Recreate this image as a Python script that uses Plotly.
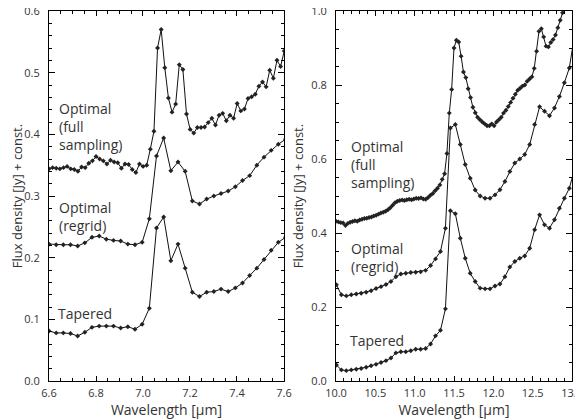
import numpy as np
import plotly.graph_objects as go

# ---------------- data ----------------
# Left panel (6.6 - 7.6 um)
left_full_x0, left_full_step = 6.600, 0.0154
left_full_y = [0.344, 0.346, 0.345, 0.344, 0.346, 0.348, 0.344, 0.343, 0.340, 0.347,
               0.346, 0.353, 0.357, 0.364, 0.360, 0.357, 0.352, 0.358, 0.355, 0.354,
               0.345, 0.352, 0.351, 0.343, 0.338, 0.352, 0.348, 0.350,
               0.376, 0.405, 0.540, 0.570, 0.508, 0.459, 0.436, 0.449, 0.513, 0.505,
               0.433, 0.408, 0.402, 0.411, 0.411, 0.412, 0.419, 0.426, 0.415, 0.431,
               0.434, 0.422, 0.431, 0.426, 0.450, 0.438, 0.441, 0.458, 0.461, 0.465,
               0.478, 0.485, 0.477, 0.504, 0.491, 0.520, 0.510, 0.535]
left_coarse_x0, left_coarse_step = 6.600, 0.0305
left_regrid_y = [0.222, 0.221, 0.221, 0.221, 0.219, 0.224, 0.233, 0.235, 0.230, 0.228,
                 0.227, 0.222, 0.221, 0.225, 0.263, 0.365, 0.394, 0.341, 0.355, 0.340,
                 0.292, 0.287, 0.295, 0.300, 0.304, 0.308, 0.315, 0.325, 0.333, 0.350,
                 0.363, 0.374, 0.384, 0.392]
left_taper_y = [0.081, 0.078, 0.078, 0.077, 0.073, 0.079, 0.087, 0.089, 0.089, 0.089,
                0.086, 0.088, 0.084, 0.092, 0.118, 0.248, 0.266, 0.195, 0.222, 0.183,
                0.144, 0.137, 0.144, 0.145, 0.149, 0.145, 0.151, 0.159, 0.171, 0.183,
                0.197, 0.212, 0.225, 0.233]

# Right panel (10 - 13 um)
right_full_x0, right_full_step = 10.00, 0.03
right_full_y = [0.432, 0.430, 0.428, 0.427, 0.420, 0.426, 0.429, 0.431, 0.433, 0.432,
                0.435, 0.437, 0.439, 0.440, 0.442, 0.443, 0.446, 0.448, 0.451, 0.454,
                0.456, 0.459, 0.463, 0.468, 0.475, 0.482, 0.486, 0.488, 0.489, 0.488,
                0.490, 0.491, 0.490, 0.492, 0.494, 0.493, 0.495, 0.492, 0.491, 0.496,
                0.502, 0.507, 0.514, 0.521, 0.530, 0.545, 0.560, 0.615, 0.724, 0.788,
                0.900, 0.921, 0.916, 0.878, 0.835, 0.820, 0.790, 0.766, 0.740, 0.725,
                0.713, 0.706, 0.700, 0.695, 0.690, 0.690, 0.695, 0.690, 0.700, 0.706,
                0.713, 0.724, 0.732, 0.742, 0.753, 0.764, 0.775, 0.786, 0.791, 0.797,
                0.800, 0.810, 0.816, 0.822, 0.845, 0.891, 0.945, 0.952, 0.930, 0.905,
                0.903, 0.915, 0.923, 0.935, 0.955, 0.975, 0.995, 1.015, 1.035, 1.055,
                1.075]
right_coarse_x0, right_coarse_step = 10.005, 0.063
right_regrid_y = [0.260, 0.233, 0.230, 0.233, 0.235, 0.237, 0.240, 0.244, 0.250, 0.255,
                  0.261, 0.269, 0.282, 0.289, 0.291, 0.293, 0.294, 0.295, 0.299, 0.312,
                  0.330, 0.350, 0.413, 0.684, 0.693, 0.639, 0.585, 0.548, 0.516, 0.500,
                  0.494, 0.494, 0.503, 0.517, 0.539, 0.566, 0.589, 0.600, 0.612, 0.639,
                  0.693, 0.741, 0.729, 0.717, 0.738, 0.769, 0.806, 0.846, 0.930]
right_taper_y = [0.043, 0.030, 0.028, 0.030, 0.032, 0.034, 0.037, 0.041, 0.045, 0.050,
                 0.055, 0.062, 0.076, 0.079, 0.079, 0.082, 0.086, 0.086, 0.088, 0.100,
                 0.122, 0.137, 0.195, 0.460, 0.452, 0.386, 0.332, 0.291, 0.269, 0.251,
                 0.249, 0.249, 0.257, 0.262, 0.282, 0.308, 0.323, 0.332, 0.338, 0.359,
                 0.409, 0.449, 0.422, 0.413, 0.436, 0.467, 0.494, 0.521, 0.570]

labels = ["Optimal<br>(full<br>sampling)", "Optimal<br>(regrid)", "Tapered"]
left_label_pos = [(6.632, 0.412), (6.632, 0.267), (6.630, 0.110)]
right_label_pos = [(10.165, 0.585), (10.165, 0.334), (10.150, 0.109)]

x_title = "Wavelength [µm]"
y_title = "Flux density [Jy] + const."


def grid(x0, step, n):
    return x0 + step * np.arange(n)


FONT = "Open Sans, DejaVu Sans, sans-serif"
TXT = "#333333"

fig = go.Figure()

series = [
    ("x", "y", left_full_x0, left_full_step, left_full_y),
    ("x", "y", left_coarse_x0, left_coarse_step, left_regrid_y),
    ("x", "y", left_coarse_x0, left_coarse_step, left_taper_y),
    ("x2", "y2", right_full_x0, right_full_step, right_full_y),
    ("x2", "y2", right_coarse_x0, right_coarse_step, right_regrid_y),
    ("x2", "y2", right_coarse_x0, right_coarse_step, right_taper_y),
]
for xa, ya, x0, st, yv in series:
    fig.add_trace(go.Scatter(
        x=grid(x0, st, len(yv)), y=yv, xaxis=xa, yaxis=ya,
        mode="lines+markers",
        line=dict(color="#111111", width=1),
        marker=dict(symbol="diamond", size=3.8, color="#222222"),
        cliponaxis=True, showlegend=False, hoverinfo="skip"))

for (x, y), t in zip(left_label_pos, labels):
    fig.add_annotation(x=x, y=y, xref="x", yref="y", text=t, showarrow=False,
                       xanchor="left", yanchor="middle", align="left",
                       font=dict(family=FONT, size=14, color=TXT))
for (x, y), t in zip(right_label_pos, labels):
    fig.add_annotation(x=x, y=y, xref="x2", yref="y2", text=t, showarrow=False,
                       xanchor="left", yanchor="middle", align="left",
                       font=dict(family=FONT, size=14, color=TXT))

common_axis = dict(showgrid=False, zeroline=False, showline=True, linecolor="black",
                   linewidth=1, mirror="ticks", ticks="inside", tickcolor="black",
                   tickwidth=1, automargin=False, ticklabeloverflow="allow",
                   tickfont=dict(family=FONT, size=11, color=TXT))

# the page body keeps its 8px margin, so the figure is sized to the remaining view
fig.update_layout(
    width=575, height=411,
    margin=dict(l=41, r=11, t=3, b=38),
    plot_bgcolor="white", paper_bgcolor="white",
    xaxis=dict(domain=[0, 0.4493], range=[6.6, 7.6], dtick=0.2, tick0=6.6,
               tickformat=".1f", ticklen=5, anchor="y", ticklabelstandoff=2,
               minor=dict(dtick=0.05, ticklen=3, ticks="inside", tickcolor="black"),
               title=dict(text=x_title, font=dict(family=FONT, size=14, color=TXT), standoff=0),
               **common_axis),
    yaxis=dict(domain=[0, 1], range=[0, 0.6], dtick=0.1, tickformat=".1f", ticklen=6,
               anchor="x", ticklabelstandoff=6,
               minor=dict(dtick=0.02, ticklen=3, ticks="inside", tickcolor="black"),
               title=dict(text=y_title, font=dict(family=FONT, size=13, color=TXT), standoff=4),
               **common_axis),
    xaxis2=dict(domain=[0.5488, 1], range=[10.0, 13.0], dtick=0.5, tick0=10,
                tickformat=".1f", ticklen=5, anchor="y2", ticklabelstandoff=2,
                minor=dict(dtick=0.1, ticklen=3, ticks="inside", tickcolor="black"),
                title=dict(text=x_title, font=dict(family=FONT, size=14, color=TXT), standoff=0),
                **common_axis),
    yaxis2=dict(domain=[0, 1], range=[0, 1.0], dtick=0.2, tickformat=".1f", ticklen=6,
                anchor="x2", ticklabelstandoff=6,
                minor=dict(dtick=0.05, ticklen=3, ticks="inside", tickcolor="black"),
                title=dict(text=y_title, font=dict(family=FONT, size=13, color=TXT), standoff=4),
                **common_axis),
)

fig.write_html("out.html", config={"displayModeBar": False})
